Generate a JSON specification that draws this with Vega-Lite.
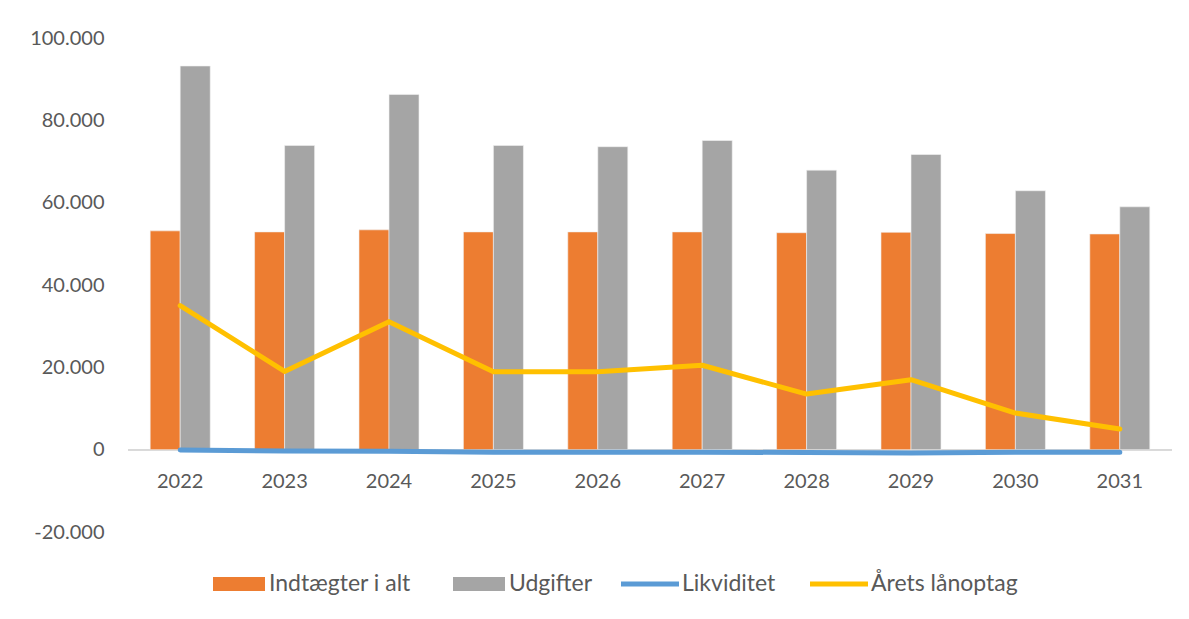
{
  "$schema": "https://vega.github.io/schema/vega-lite/v6.json",
  "width": 1044,
  "height": 494,
  "autosize": {"type": "none"},
  "padding": {"left": 128, "top": 38, "right": 17, "bottom": 87},
  "background": "white",
  "config": {
    "font": "Lato",
    "view": {"stroke": null},
    "locale": {"number": {"decimal": ",", "thousands": ".", "grouping": [3], "currency": ["", " kr."], "minus": "-"}}
  },
  "data": {
    "values": [
      {"year": "2022", "series": "Indtægter i alt", "value": 53150},
      {"year": "2023", "series": "Indtægter i alt", "value": 52900},
      {"year": "2024", "series": "Indtægter i alt", "value": 53400},
      {"year": "2025", "series": "Indtægter i alt", "value": 52900},
      {"year": "2026", "series": "Indtægter i alt", "value": 52900},
      {"year": "2027", "series": "Indtægter i alt", "value": 52900},
      {"year": "2028", "series": "Indtægter i alt", "value": 52700},
      {"year": "2029", "series": "Indtægter i alt", "value": 52800},
      {"year": "2030", "series": "Indtægter i alt", "value": 52500},
      {"year": "2031", "series": "Indtægter i alt", "value": 52400},
      {"year": "2022", "series": "Udgifter", "value": 93200},
      {"year": "2023", "series": "Udgifter", "value": 73900},
      {"year": "2024", "series": "Udgifter", "value": 86300},
      {"year": "2025", "series": "Udgifter", "value": 73900},
      {"year": "2026", "series": "Udgifter", "value": 73600},
      {"year": "2027", "series": "Udgifter", "value": 75100},
      {"year": "2028", "series": "Udgifter", "value": 67900},
      {"year": "2029", "series": "Udgifter", "value": 71700},
      {"year": "2030", "series": "Udgifter", "value": 62900},
      {"year": "2031", "series": "Udgifter", "value": 59000},
      {"year": "2022", "series": "Likviditet", "value": -100},
      {"year": "2023", "series": "Likviditet", "value": -300},
      {"year": "2024", "series": "Likviditet", "value": -400},
      {"year": "2025", "series": "Likviditet", "value": -600},
      {"year": "2026", "series": "Likviditet", "value": -600},
      {"year": "2027", "series": "Likviditet", "value": -600},
      {"year": "2028", "series": "Likviditet", "value": -700},
      {"year": "2029", "series": "Likviditet", "value": -800},
      {"year": "2030", "series": "Likviditet", "value": -600},
      {"year": "2031", "series": "Likviditet", "value": -600},
      {"year": "2022", "series": "Årets lånoptag", "value": 35000},
      {"year": "2023", "series": "Årets lånoptag", "value": 19000},
      {"year": "2024", "series": "Årets lånoptag", "value": 31100},
      {"year": "2025", "series": "Årets lånoptag", "value": 18900},
      {"year": "2026", "series": "Årets lånoptag", "value": 18900},
      {"year": "2027", "series": "Årets lånoptag", "value": 20500},
      {"year": "2028", "series": "Årets lånoptag", "value": 13500},
      {"year": "2029", "series": "Årets lånoptag", "value": 17000},
      {"year": "2030", "series": "Årets lånoptag", "value": 8900},
      {"year": "2031", "series": "Årets lånoptag", "value": 5000}
    ]
  },
  "encoding": {
    "x": {
      "field": "year",
      "type": "nominal",
      "scale": {"paddingInner": 0.425, "paddingOuter": 0.2125},
      "axis": {
        "title": null,
        "orient": "bottom",
        "offset": -82,
        "domain": false,
        "ticks": false,
        "labelAngle": 0,
        "labelPadding": 21,
        "labelFontSize": 20,
        "labelColor": "#595959"
      }
    },
    "y": {
      "field": "value",
      "type": "quantitative",
      "scale": {"domain": [-20000, 100000], "nice": false, "zero": false},
      "axis": {
        "title": null,
        "values": [-20000, 0, 20000, 40000, 60000, 80000, 100000],
        "format": ",d",
        "grid": false,
        "domain": false,
        "ticks": false,
        "labelPadding": 24,
        "labelFontSize": 20,
        "labelColor": "#595959"
      }
    }
  },
  "layer": [
    {
      "mark": {"type": "rule", "color": "#D9D9D9", "strokeWidth": 1.5},
      "encoding": {"x": null, "y": {"datum": 0, "type": "quantitative"}}
    },
    {
      "transform": [{"filter": "datum.series === 'Indtægter i alt' || datum.series === 'Udgifter'"}],
      "mark": {"type": "bar", "stroke": "#F2F2F2", "strokeWidth": 0.6},
      "encoding": {
        "xOffset": {"field": "series", "type": "nominal", "scale": {"domain": ["Indtægter i alt", "Udgifter"], "paddingInner": 0, "paddingOuter": 0}},
        "fill": {
          "field": "series",
          "type": "nominal",
          "scale": {
            "domain": ["Indtægter i alt", "Udgifter"],
            "range": ["#ED7D31", "#A5A5A5"]
          },
          "legend": {
            "title": null,
            "orient": "none",
            "direction": "horizontal",
            "legendX": 85,
            "legendY": 520,
            "labelFontSize": 23,
            "labelColor": "#595959",
            "labelOffset": 4,
            "columnPadding": 42,
            "symbolType": "M-1,-0.27H1V0.27H-1Z",
            "symbolSize": 2704,
            "symbolStrokeWidth": 0,
            "symbolOpacity": 1
          }
        }
      }
    },
    {
      "transform": [{"filter": "datum.series === 'Likviditet' || datum.series === 'Årets lånoptag'"}],
      "mark": {"type": "line", "strokeWidth": 5, "strokeCap": "round", "strokeJoin": "round"},
      "encoding": {
        "stroke": {
          "field": "series",
          "type": "nominal",
          "scale": {
            "domain": ["Likviditet", "Årets lånoptag"],
            "range": ["#5B9BD5", "#FFC000"]
          },
          "legend": {
            "title": null,
            "orient": "none",
            "direction": "horizontal",
            "legendX": 493,
            "legendY": 517,
            "labelFontSize": 23,
            "labelColor": "#595959",
            "labelOffset": 3,
            "columnPadding": 34,
            "symbolType": "M-1,-0.09H1V0.09H-1Z",
            "symbolSize": 3364,
            "symbolStrokeWidth": 0,
            "symbolOpacity": 1,
            "encode": {
              "symbols": {
                "update": {
                  "fill": {"scale": "stroke", "field": "value"}
                }
              }
            }
          }
        }
      }
    }
  ]
}
